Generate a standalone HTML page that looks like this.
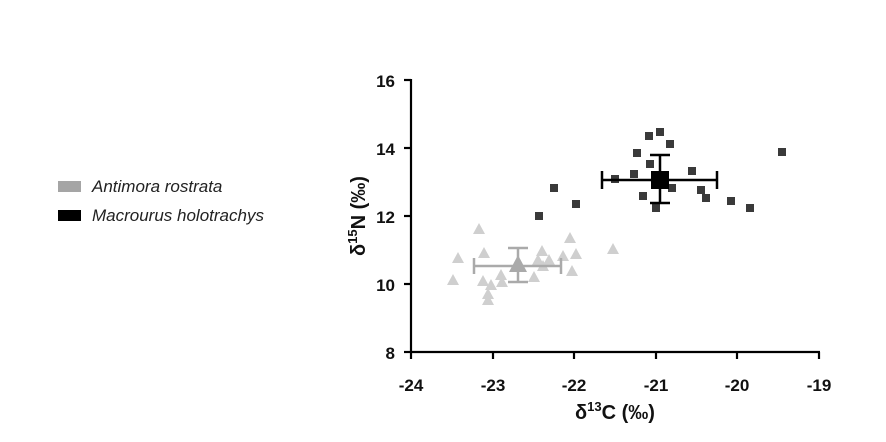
<!DOCTYPE html>
<html><head><style>body{margin:0;background:#fff}svg{display:block}</style></head><body>
<svg width="886" height="442" xmlns="http://www.w3.org/2000/svg" font-family="Liberation Sans, sans-serif">
<rect width="886" height="442" fill="#fff"/>
<g stroke="#000" stroke-width="2.2" fill="none">
<line x1="411" y1="79" x2="411" y2="353"/>
<line x1="410" y1="352" x2="820" y2="352"/>
<line x1="404" y1="80" x2="411" y2="80"/><line x1="404" y1="148" x2="411" y2="148"/><line x1="404" y1="216" x2="411" y2="216"/><line x1="404" y1="284" x2="411" y2="284"/><line x1="404" y1="352" x2="411" y2="352"/>
<line x1="411" y1="352" x2="411" y2="359"/><line x1="493" y1="352" x2="493" y2="359"/><line x1="574" y1="352" x2="574" y2="359"/><line x1="656" y1="352" x2="656" y2="359"/><line x1="737" y1="352" x2="737" y2="359"/><line x1="819" y1="352" x2="819" y2="359"/>
</g>
<g font-size="17" font-weight="bold" text-anchor="end" fill="#111">
<text x="395" y="87">16</text><text x="395" y="155">14</text><text x="395" y="223">12</text><text x="395" y="291">10</text><text x="395" y="359">8</text>
</g>
<g font-size="17" font-weight="bold" text-anchor="middle" fill="#111">
<text x="411" y="391">-24</text><text x="493" y="391">-23</text><text x="574" y="391">-22</text><text x="656" y="391">-21</text><text x="737" y="391">-20</text><text x="819" y="391">-19</text>
<text x="615" y="419" font-size="20">δ<tspan font-size="13" dy="-8">13</tspan><tspan dy="8">C (‰)</tspan></text>
<text transform="translate(365,216) rotate(-90)" font-size="20">δ<tspan font-size="13" dy="-8">15</tspan><tspan dy="8">N (‰)</tspan></text>
</g>
<g fill="#cfcfcf">
<path d="M0,-6 L6,5 L-6,5Z" transform="translate(479,229)"/>
<path d="M0,-6 L6,5 L-6,5Z" transform="translate(570,238)"/>
<path d="M0,-6 L6,5 L-6,5Z" transform="translate(613,249)"/>
<path d="M0,-6 L6,5 L-6,5Z" transform="translate(458,258)"/>
<path d="M0,-6 L6,5 L-6,5Z" transform="translate(484,253)"/>
<path d="M0,-6 L6,5 L-6,5Z" transform="translate(542,251)"/>
<path d="M0,-6 L6,5 L-6,5Z" transform="translate(576,254)"/>
<path d="M0,-6 L6,5 L-6,5Z" transform="translate(563,256)"/>
<path d="M0,-6 L6,5 L-6,5Z" transform="translate(538,260)"/>
<path d="M0,-6 L6,5 L-6,5Z" transform="translate(549,260)"/>
<path d="M0,-6 L6,5 L-6,5Z" transform="translate(543,266)"/>
<path d="M0,-6 L6,5 L-6,5Z" transform="translate(572,271)"/>
<path d="M0,-6 L6,5 L-6,5Z" transform="translate(453,280)"/>
<path d="M0,-6 L6,5 L-6,5Z" transform="translate(483,281)"/>
<path d="M0,-6 L6,5 L-6,5Z" transform="translate(501,275)"/>
<path d="M0,-6 L6,5 L-6,5Z" transform="translate(502,282)"/>
<path d="M0,-6 L6,5 L-6,5Z" transform="translate(491,285)"/>
<path d="M0,-6 L6,5 L-6,5Z" transform="translate(534,277)"/>
<path d="M0,-6 L6,5 L-6,5Z" transform="translate(488,294)"/>
<path d="M0,-6 L6,5 L-6,5Z" transform="translate(488,300)"/>
</g>
<g stroke="#aaa" stroke-width="2.5">
<line x1="474" y1="266" x2="561" y2="266"/><line x1="474" y1="258" x2="474" y2="274"/><line x1="561" y1="258" x2="561" y2="274"/>
<line x1="518" y1="248" x2="518" y2="282"/><line x1="508" y1="248" x2="528" y2="248"/><line x1="508" y1="282" x2="528" y2="282"/>
</g>
<path d="M518,255 L527,272 L509,272Z" fill="#aaa"/>
<g fill="#3a3a3a">
<rect x="645" y="132" width="8" height="8"/><rect x="656" y="128" width="8" height="8"/><rect x="666" y="140" width="8" height="8"/><rect x="633" y="149" width="8" height="8"/><rect x="646" y="160" width="8" height="8"/><rect x="778" y="148" width="8" height="8"/><rect x="630" y="170" width="8" height="8"/><rect x="611" y="175" width="8" height="8"/><rect x="688" y="167" width="8" height="8"/><rect x="668" y="184" width="8" height="8"/><rect x="697" y="186" width="8" height="8"/><rect x="702" y="194" width="8" height="8"/><rect x="727" y="197" width="8" height="8"/><rect x="746" y="204" width="8" height="8"/><rect x="639" y="192" width="8" height="8"/><rect x="652" y="204" width="8" height="8"/><rect x="550" y="184" width="8" height="8"/><rect x="572" y="200" width="8" height="8"/><rect x="535" y="212" width="8" height="8"/>
</g>
<g stroke="#000" stroke-width="2.5">
<line x1="602" y1="180" x2="717" y2="180"/><line x1="602" y1="171" x2="602" y2="189"/><line x1="717" y1="171" x2="717" y2="189"/>
<line x1="660" y1="155" x2="660" y2="203"/><line x1="650" y1="155" x2="670" y2="155"/><line x1="650" y1="203" x2="670" y2="203"/>
</g>
<rect x="651" y="171" width="18" height="18" fill="#000"/>
<rect x="58" y="181" width="23" height="11" fill="#a5a5a5"/>
<rect x="58" y="210" width="23" height="11" fill="#000"/>
<g font-size="17" font-style="italic" fill="#222">
<text x="92" y="192">Antimora rostrata</text>
<text x="92" y="221">Macrourus holotrachys</text>
</g>
</svg>
</body></html>
